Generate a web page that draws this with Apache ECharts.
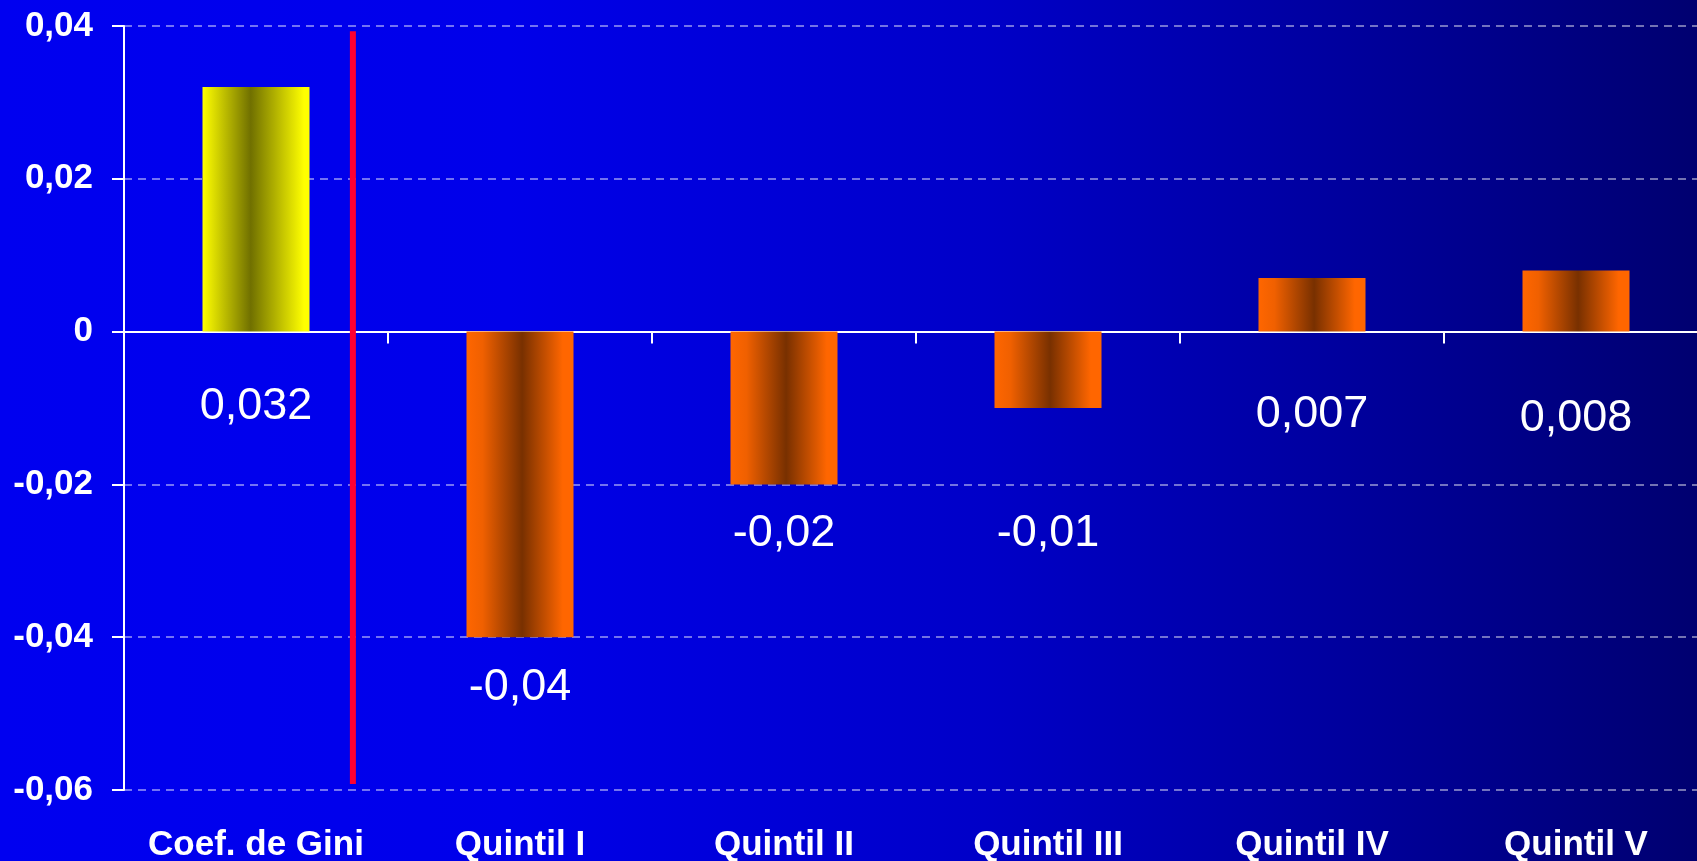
<!DOCTYPE html>
<html>
<head>
<meta charset="utf-8">
<script src="https://cdn.jsdelivr.net/npm/echarts@6/dist/echarts.min.js"></script>
<style>
html,body{margin:0;padding:0;}
#chart{width:1697px;height:861px;background:linear-gradient(to right,#0000F0 0%,#0000EA 30%,#0000C8 58%,#0000A0 78%,#000070 100%);}
</style>
</head>
<body>
<div id="chart"></div>
<script>
// ---- data ----
var categories = ['Coef. de Gini', 'Quintil I', 'Quintil II', 'Quintil III', 'Quintil IV', 'Quintil V'];
var values = [0.032, -0.04, -0.02, -0.01, 0.007, 0.008];
var valueLabels = ['0,032', '-0,04', '-0,02', '-0,01', '0,007', '0,008'];
var yTickLabels = ['-0,06', '-0,04', '-0,02', '0', '0,02', '0,04'];
var dividerX = 0.867;            // position of the red divider, in category units
var dividerY = [0.0393, -0.0592]; // its top and bottom values

// ---- styles ----
var labelOffsets = [197, 203, 126, 164, 110, 118];
function barGradient(i) {
  if (i === 0) {
    return new echarts.graphic.LinearGradient(0, 0, 1, 0, [
      {offset: 0, color: '#FFFF00'},
      {offset: 0.45, color: '#707000'},
      {offset: 0.95, color: '#FFFF00'},
      {offset: 1, color: '#FFFF00'}
    ]);
  }
  return new echarts.graphic.LinearGradient(0, 0, 1, 0, [
    {offset: 0, color: '#FF6600'},
    {offset: 0.15, color: '#F06000'},
    {offset: 0.52, color: '#783000'},
    {offset: 0.9, color: '#FF6600'},
    {offset: 1, color: '#FF6600'}
  ]);
}

var barData = values.map(function (v, i) {
  return {
    value: v,
    itemStyle: {color: barGradient(i)},
    label: {offset: [0, labelOffsets[i]]}
  };
});

var font = "'Liberation Sans', Arial, sans-serif";
var chart = echarts.init(document.getElementById('chart'), null, {renderer: 'canvas'});
chart.setOption({
  animation: false,
  backgroundColor: 'transparent',
  grid: {left: 124, top: 26, width: 1584, height: 764, containLabel: false, outerBoundsMode: 'none'},
  xAxis: [
    {
      type: 'category', data: categories, position: 'bottom',
      axisLine: {show: false, onZero: false},
      axisTick: {show: false},
      axisLabel: {color: '#FFFFFF', fontFamily: font, fontWeight: 'bold', fontSize: 35, margin: 38, interval: 0}
    },
    {
      type: 'category', data: categories, position: 'bottom',
      axisLine: {show: true, onZero: true, lineStyle: {color: '#FFFFFF', width: 2}},
      axisTick: {show: true, length: 12, lineStyle: {color: '#FFFFFF', width: 2}},
      axisLabel: {show: false},
      splitLine: {show: false}
    },
    {
      type: 'value', min: 0, max: 6, show: false
    }
  ],
  yAxis: {
    type: 'value', min: -0.06, max: 0.04, interval: 0.02,
    axisLine: {show: true, lineStyle: {color: '#FFFFFF', width: 2}},
    axisTick: {show: true, length: 12, lineStyle: {color: '#FFFFFF', width: 2}},
    axisLabel: {
      color: '#FFFFFF', fontFamily: font, fontWeight: 'bold', fontSize: 35, margin: 31,
      formatter: function (v, idx) { return yTickLabels[idx]; }
    },
    splitLine: {show: true, lineStyle: {color: 'rgba(255,255,255,0.6)', width: 1.5, type: [8, 6]}}
  },
  series: [
    {
      type: 'bar', xAxisIndex: 0, yAxisIndex: 0,
      data: barData, barWidth: 107,
      label: {
        show: true, position: 'inside',
        color: '#FFFFFF', fontFamily: font, fontSize: 45,
        formatter: function (p) { return valueLabels[p.dataIndex]; }
      },
      z: 3
    },
    {
      type: 'line', xAxisIndex: 2, yAxisIndex: 0,
      data: [[dividerX, dividerY[0]], [dividerX, dividerY[1]]],
      symbol: 'none', silent: true,
      lineStyle: {color: '#FF0030', width: 6},
      z: 4
    }
  ]
});
</script>
</body>
</html>
